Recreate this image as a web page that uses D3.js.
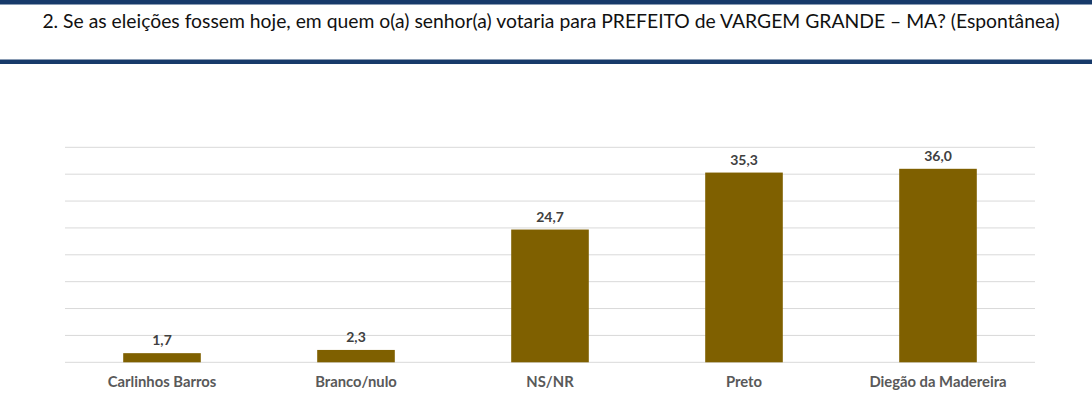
<!DOCTYPE html>
<html>
<head>
<meta charset="utf-8">
<script src="https://cdn.jsdelivr.net/npm/d3@7"></script>
<style>
  html, body { margin: 0; padding: 0; background: #fff; }
  svg { display: block; }
</style>
</head>
<body>
<div id="chart"></div>
<script>
var categories = ["Carlinhos Barros", "Branco/nulo", "NS/NR", "Preto", "Diegão da Madereira"];
var values = [1.7, 2.3, 24.7, 35.3, 36.0];
var gridTicks = [0, 5, 10, 15, 20, 25, 30, 35, 40];
var title = "2. Se as eleições fossem hoje, em quem o(a) senhor(a) votaria para PREFEITO de VARGEM GRANDE – MA? (Espontânea)";

var width = 1092, height = 394;
var fontFamily = "Lato, Carlito, Calibri, 'Open Sans', sans-serif";

var svg = d3.select("#chart").append("svg")
            .attr("width", width)
            .attr("height", height);

// header bars
svg.append("rect").attr("x", 0).attr("y", 0).attr("width", width).attr("height", 4.5)
   .style("fill", "#173a6a");
svg.append("rect").attr("x", 0).attr("y", 59.5).attr("width", width).attr("height", 4.5)
   .style("fill", "#173a6a");

var titleText = svg.append("text")
   .attr("x", 551)
   .attr("y", 28)
   .attr("text-anchor", "middle")
   .style("font-family", fontFamily)
   .style("font-size", "17px")
   .style("fill", "#111")
   .text(title);

// fit title to reference width
var tw = titleText.node().getComputedTextLength();
titleText.style("font-size", (17 * 1018 / tw) + "px");

var x = d3.scaleBand()
          .domain(categories)
          .range([65, 1035])
          .paddingInner(0.6)
          .paddingOuter(0.3);

var y = d3.scaleLinear()
          .domain([0, 40])
          .range([362.3, 147.3]);

svg.selectAll("line.grid")
   .data(gridTicks)
   .enter()
   .append("line")
   .attr("class", "grid")
   .attr("x1", 65)
   .attr("x2", 1035)
   .attr("y1", function (d) { return y(d); })
   .attr("y2", function (d) { return y(d); })
   .style("stroke", "#d9d9d9")
   .style("stroke-width", 1);

var data = categories.map(function (c, i) { return { name: c, value: values[i] }; });

svg.selectAll("rect.bar")
   .data(data)
   .enter()
   .append("rect")
   .attr("class", "bar")
   .attr("x", function (d) { return x(d.name); })
   .attr("y", function (d) { return y(d.value); })
   .attr("width", x.bandwidth())
   .attr("height", function (d) { return y(0) - y(d.value); })
   .style("fill", "#7f6000");

svg.selectAll("text.val")
   .data(data)
   .enter()
   .append("text")
   .attr("class", "val")
   .attr("x", function (d) { return x(d.name) + x.bandwidth() / 2; })
   .attr("y", function (d) { return y(d.value) - 8; })
   .attr("text-anchor", "middle")
   .style("font-family", fontFamily)
   .style("font-weight", "bold")
   .style("font-size", "14px")
   .style("fill", "#404040")
   .text(function (d) { return d.value.toFixed(1).replace(".", ","); });

svg.selectAll("text.cat")
   .data(data)
   .enter()
   .append("text")
   .attr("class", "cat")
   .attr("x", function (d) { return x(d.name) + x.bandwidth() / 2; })
   .attr("y", 387)
   .attr("text-anchor", "middle")
   .style("font-family", fontFamily)
   .style("font-weight", "bold")
   .style("font-size", "14.8px")
   .style("fill", "#595959")
   .text(function (d) { return d.name; });
</script>
</body>
</html>
